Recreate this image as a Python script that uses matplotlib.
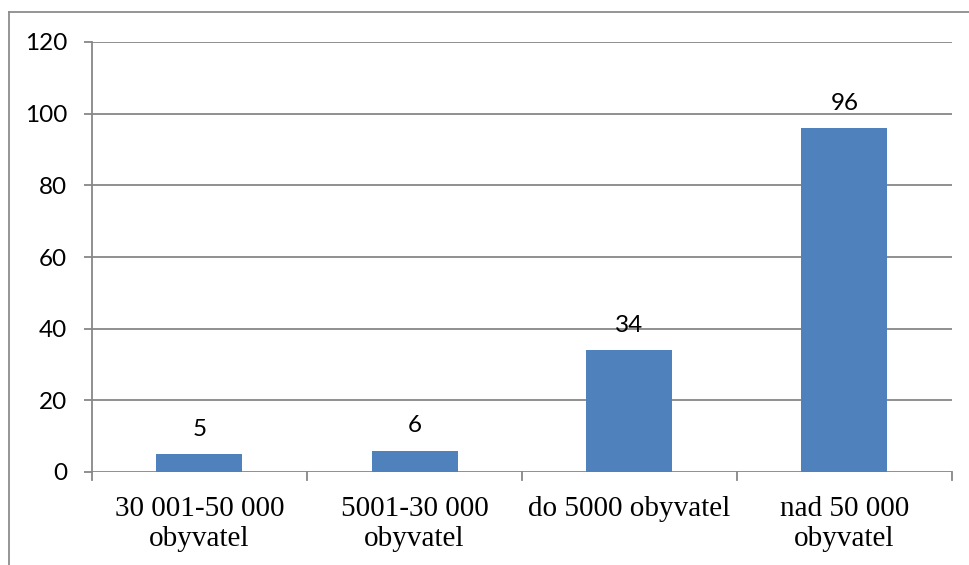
import matplotlib
matplotlib.use("Agg")
import matplotlib.pyplot as plt
from matplotlib.lines import Line2D

categories = ["30 001-50 000\nobyvatel", "5001-30 000\nobyvatel", "do 5000 obyvatel", "nad 50 000\nobyvatel"]
values = [5, 6, 34, 96]
y_ticks = [0, 20, 40, 60, 80, 100, 120]

W, H = 970, 565
fig = plt.figure(figsize=(W / 100, H / 100), dpi=100)
fig.patch.set_facecolor("white")

# outer chart frame (top and left edges)
frame_col = "#8c8c8c"
fig.add_artist(Line2D([9 / W, 9 / W], [0, 1 - 12 / H], transform=fig.transFigure, color=frame_col, lw=1.3))
fig.add_artist(Line2D([9 / W, 1], [1 - 12 / H, 1 - 12 / H], transform=fig.transFigure, color=frame_col, lw=1.3))

ax = fig.add_axes([92 / W, (H - 472) / H, 860 / W, 430 / H])
grid_col = "#878787"

x = list(range(len(values)))
ax.bar(x, values, width=0.4, color="#4F81BD", zorder=3)
ax.set_xlim(-0.5, len(values) - 0.5)
ax.set_ylim(0, 120)

ax.set_yticks(y_ticks)
ax.set_yticklabels([str(t) for t in y_ticks], fontfamily="Lato", fontsize=17.5)
for t in y_ticks:
    ax.axhline(t, color=grid_col, lw=1.3, zorder=1)

ax.set_xticks(x)
ax.set_xticklabels(categories, fontfamily="Liberation Serif", fontsize=21, linespacing=1.22)
ax.tick_params(axis="x", length=0, pad=17)
ax.tick_params(axis="y", length=6, width=1.3, color=grid_col, pad=12)

# category boundary tick marks below the axis
for b in [i - 0.5 for i in range(len(values) + 1)]:
    ax.plot([b, b], [0, -2.2], color=grid_col, lw=1.3, clip_on=False, zorder=2)

for s in ["top", "right", "bottom"]:
    ax.spines[s].set_visible(False)
ax.spines["left"].set_color(grid_col)
ax.spines["left"].set_linewidth(1.3)

for xi, v in zip(x, values):
    ax.text(xi, v + 4.0, str(v), ha="center", va="bottom", fontfamily="Lato", fontsize=17.5)

fig.savefig("out.png", dpi=100)
